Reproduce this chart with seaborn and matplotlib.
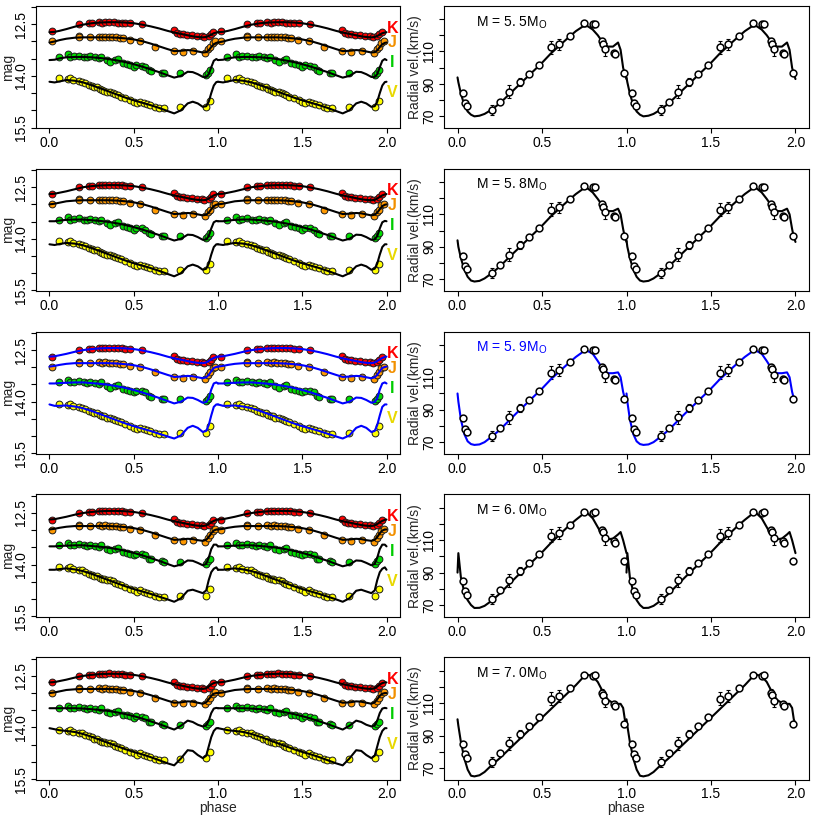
import numpy as np
import matplotlib
matplotlib.use("Agg")
import matplotlib.pyplot as plt
import seaborn as sns

# ---- observed light curves (one cycle; plotted at phase and phase+1) ----
K_PHASE = [0.016, 0.173, 0.233, 0.250, 0.292, 0.312, 0.331, 0.355, 0.381, 0.404, 0.430, 0.450,
           0.479, 0.548, 0.736, 0.756, 0.772, 0.792, 0.815, 0.845, 0.875, 0.904, 0.918, 0.944,
           0.958, 0.973]
K_MAG = [12.69, 12.50, 12.47, 12.46, 12.44, 12.45, 12.44, 12.43, 12.44, 12.45, 12.45, 12.47,
         12.47, 12.50, 12.68, 12.76, 12.79, 12.79, 12.81, 12.81, 12.84, 12.84, 12.88, 12.84,
         12.79, 12.71]

J_PHASE = [0.016, 0.173, 0.175, 0.239, 0.292, 0.312, 0.331, 0.351, 0.371, 0.396, 0.416, 0.436,
           0.475, 0.538, 0.627, 0.736, 0.791, 0.854, 0.923, 0.943, 0.953, 0.968, 0.985]
J_MAG = [12.99, 12.84, 12.88, 12.88, 12.86, 12.88, 12.86, 12.88, 12.88, 12.88, 12.91, 12.91,
         12.96, 13.00, 13.15, 13.28, 13.30, 13.28, 13.33, 13.23, 13.15, 13.03, 12.98]

I_PHASE = [0.055, 0.108, 0.124, 0.144, 0.173, 0.203, 0.223, 0.242, 0.272, 0.292, 0.306, 0.341,
           0.361, 0.390, 0.404, 0.436, 0.459, 0.479, 0.499, 0.515, 0.548, 0.568, 0.588, 0.602,
           0.667, 0.677, 0.775, 0.929, 0.943, 0.953]
I_MAG = [13.44, 13.37, 13.44, 13.42, 13.41, 13.44, 13.46, 13.42, 13.46, 13.49, 13.44, 13.54,
         13.59, 13.54, 13.52, 13.63, 13.65, 13.68, 13.73, 13.68, 13.70, 13.73, 13.83, 13.85,
         13.91, 13.93, 13.93, 13.97, 13.91, 13.83]

V_PHASE = [0.055, 0.108, 0.124, 0.140, 0.173, 0.193, 0.213, 0.233, 0.252, 0.266, 0.282, 0.298,
           0.312, 0.326, 0.341, 0.361, 0.377, 0.390, 0.404, 0.424, 0.450, 0.479, 0.499, 0.519,
           0.538, 0.558, 0.578, 0.598, 0.627, 0.647, 0.677, 0.775, 0.929, 0.953]
V_MAG = [14.07, 14.10, 14.07, 14.12, 14.15, 14.17, 14.22, 14.26, 14.29, 14.33, 14.33, 14.39,
         14.41, 14.43, 14.46, 14.46, 14.49, 14.53, 14.56, 14.60, 14.65, 14.70, 14.75, 14.80,
         14.75, 14.80, 14.82, 14.85, 14.91, 14.94, 14.94, 14.91, 14.90, 14.72]

# ---- observed radial velocities ----
RV_PHASE = [0.030, 0.045, 0.055, 0.203, 0.252, 0.305, 0.370, 0.424, 0.483, 0.554, 0.601, 0.664,
            0.747, 0.800, 0.814, 0.857, 0.863, 0.873, 0.928, 0.932, 0.987]
RV = [84.6, 78.4, 76.2, 73.7, 79.0, 85.2, 91.1, 95.9, 101.6, 112.7, 114.4, 119.5,
      127.5, 126.7, 127.1, 116.4, 114.8, 111.3, 109.2, 108.2, 96.9]
RV_ERR = [1.5, 1.5, 1.5, 3.0, 1.0, 4.0, 2.5, 1.0, 1.0, 4.0, 3.5, 1.5,
          1.0, 1.0, 1.0, 2.0, 1.0, 4.0, 1.5, 1.5, 1.5]

# ---- pulsation models, one per mass ----
MASSES = ["5. 5", "5. 8", "5. 9", "6. 0", "7. 0"]
MODEL_COLORS = ["black", "black", "blue", "black", "black"]

LC_GRID = [0.0, 0.03, 0.06, 0.10, 0.15, 0.20, 0.25, 0.30, 0.35, 0.40, 0.45, 0.50, 0.55, 0.60,
           0.65, 0.70, 0.74, 0.78, 0.82, 0.85, 0.88, 0.91, 0.93, 0.945, 0.96, 0.975, 0.99, 1.0]

K_MODEL = {
    "5. 5": [12.73, 12.72, 12.69, 12.64, 12.57, 12.51, 12.47, 12.45, 12.44, 12.44, 12.45, 12.47, 12.51, 12.56,
             12.62, 12.69, 12.74, 12.78, 12.82, 12.85, 12.87, 12.88, 12.87, 12.84, 12.80, 12.76, 12.74, 12.73],
    "5. 8": [12.70, 12.69, 12.66, 12.62, 12.56, 12.50, 12.47, 12.45, 12.44, 12.44, 12.45, 12.47, 12.51, 12.56,
             12.62, 12.69, 12.74, 12.78, 12.82, 12.85, 12.87, 12.88, 12.87, 12.83, 12.78, 12.74, 12.71, 12.70],
    "5. 9": [12.69, 12.68, 12.65, 12.61, 12.55, 12.50, 12.47, 12.45, 12.44, 12.44, 12.45, 12.47, 12.51, 12.56,
             12.62, 12.69, 12.74, 12.78, 12.82, 12.85, 12.87, 12.88, 12.86, 12.82, 12.77, 12.73, 12.70, 12.69],
    "6. 0": [12.69, 12.68, 12.65, 12.61, 12.55, 12.50, 12.47, 12.45, 12.44, 12.44, 12.45, 12.47, 12.51, 12.56,
             12.62, 12.69, 12.74, 12.78, 12.82, 12.85, 12.87, 12.88, 12.86, 12.82, 12.77, 12.73, 12.70, 12.69],
    "7. 0": [12.69, 12.68, 12.65, 12.61, 12.55, 12.50, 12.47, 12.45, 12.44, 12.44, 12.45, 12.47, 12.51, 12.56,
             12.62, 12.69, 12.74, 12.78, 12.82, 12.85, 12.87, 12.88, 12.86, 12.81, 12.75, 12.71, 12.69, 12.69],
}
J_MODEL = {
    "5. 5": [13.03, 13.00, 12.96, 12.92, 12.89, 12.88, 12.88, 12.88, 12.88, 12.89, 12.91, 12.94, 12.99, 13.06,
             13.14, 13.22, 13.28, 13.27, 13.25, 13.26, 13.29, 13.32, 13.31, 13.26, 13.16, 13.08, 13.04, 13.03],
    "5. 8": [13.00, 12.98, 12.95, 12.91, 12.89, 12.88, 12.88, 12.88, 12.88, 12.89, 12.91, 12.94, 12.99, 13.06,
             13.14, 13.22, 13.28, 13.27, 13.25, 13.26, 13.29, 13.32, 13.30, 13.24, 13.14, 13.05, 13.01, 13.00],
    "5. 9": [12.98, 12.96, 12.93, 12.90, 12.88, 12.88, 12.88, 12.88, 12.88, 12.89, 12.91, 12.94, 12.99, 13.06,
             13.14, 13.22, 13.28, 13.27, 13.25, 13.26, 13.29, 13.32, 13.29, 13.22, 13.11, 13.02, 12.99, 12.98],
    "6. 0": [12.98, 12.96, 12.93, 12.90, 12.88, 12.88, 12.88, 12.88, 12.88, 12.89, 12.91, 12.94, 12.99, 13.06,
             13.14, 13.22, 13.28, 13.27, 13.25, 13.26, 13.29, 13.31, 13.28, 13.20, 13.09, 13.01, 12.98, 12.98],
    "7. 0": [13.00, 12.98, 12.95, 12.91, 12.89, 12.88, 12.88, 12.88, 12.88, 12.89, 12.91, 12.94, 12.99, 13.06,
             13.14, 13.22, 13.28, 13.27, 13.24, 13.25, 13.28, 13.31, 13.27, 13.18, 13.08, 13.02, 13.00, 13.00],
}
I_MODEL = {
    "5. 5": [13.54, 13.53, 13.49, 13.46, 13.45, 13.45, 13.46, 13.48, 13.51, 13.55, 13.60, 13.66, 13.73, 13.81,
             13.89, 13.98, 14.05, 14.00, 13.88, 13.89, 13.95, 14.03, 14.03, 13.95, 13.75, 13.56, 13.51, 13.54],
    "5. 8": [13.49, 13.49, 13.47, 13.45, 13.44, 13.44, 13.46, 13.48, 13.51, 13.55, 13.60, 13.66, 13.73, 13.81,
             13.89, 13.98, 14.05, 14.00, 13.88, 13.89, 13.95, 14.03, 14.02, 13.92, 13.70, 13.52, 13.48, 13.49],
    "5. 9": [13.47, 13.47, 13.46, 13.45, 13.44, 13.44, 13.46, 13.48, 13.51, 13.55, 13.60, 13.66, 13.73, 13.81,
             13.89, 13.98, 14.05, 14.00, 13.88, 13.89, 13.95, 14.03, 14.01, 13.90, 13.65, 13.47, 13.44, 13.47],
    "6. 0": [13.47, 13.47, 13.46, 13.45, 13.44, 13.44, 13.46, 13.48, 13.51, 13.55, 13.60, 13.66, 13.73, 13.81,
             13.89, 13.98, 14.05, 14.00, 13.88, 13.89, 13.95, 14.02, 13.98, 13.80, 13.55, 13.42, 13.42, 13.47],
    "7. 0": [13.44, 13.44, 13.44, 13.44, 13.44, 13.45, 13.47, 13.49, 13.52, 13.56, 13.61, 13.67, 13.74, 13.82,
             13.90, 13.99, 14.06, 13.95, 13.80, 13.84, 13.92, 13.97, 13.94, 13.80, 13.58, 13.45, 13.43, 13.44],
}
V_MODEL = {
    "5. 5": [14.17, 14.19, 14.16, 14.12, 14.14, 14.19, 14.27, 14.36, 14.45, 14.54, 14.63, 14.71, 14.78, 14.85,
             14.93, 15.02, 15.09, 15.00, 14.80, 14.75, 14.80, 14.90, 14.88, 14.75, 14.50, 14.28, 14.18, 14.17],
    "5. 8": [14.16, 14.18, 14.15, 14.12, 14.14, 14.19, 14.27, 14.36, 14.45, 14.54, 14.63, 14.71, 14.78, 14.85,
             14.93, 15.02, 15.09, 15.00, 14.80, 14.75, 14.80, 14.90, 14.87, 14.72, 14.46, 14.24, 14.16, 14.16],
    "5. 9": [14.08, 14.12, 14.12, 14.11, 14.14, 14.19, 14.27, 14.36, 14.45, 14.54, 14.63, 14.71, 14.78, 14.85,
             14.93, 15.01, 15.07, 14.98, 14.76, 14.70, 14.76, 14.88, 14.85, 14.68, 14.40, 14.15, 14.08, 14.08],
    "6. 0": [14.15, 14.15, 14.13, 14.11, 14.14, 14.19, 14.27, 14.36, 14.45, 14.54, 14.63, 14.71, 14.78, 14.85,
             14.93, 15.01, 15.08, 14.98, 14.76, 14.73, 14.78, 14.83, 14.75, 14.45, 14.22, 14.12, 14.08, 14.15],
    "7. 0": [14.02, 14.05, 14.08, 14.10, 14.13, 14.19, 14.27, 14.36, 14.45, 14.54, 14.63, 14.71, 14.78, 14.86,
             14.95, 15.04, 15.10, 14.90, 14.66, 14.68, 14.80, 14.89, 14.82, 14.55, 14.28, 14.10, 14.02, 14.02],
}

RV_GRID = [0.0, 0.005, 0.02, 0.04, 0.06, 0.08, 0.10, 0.13, 0.16, 0.20, 0.25, 0.30, 0.35, 0.40, 0.45, 0.50,
           0.55, 0.60, 0.65, 0.70, 0.74, 0.77, 0.80, 0.83, 0.86, 0.89, 0.92, 0.95, 0.965, 0.98, 0.99, 1.0]
RV_MODEL = {
    "5. 5": [94, 91, 84, 77, 73, 71, 70, 70.4, 71.5, 74, 78, 83, 88, 93, 98, 103,
             108.5, 113.3, 118, 122.5, 125.3, 125.6, 123.5, 120, 115.5, 113, 113, 115.5, 111, 100, 96, 93],
    "5. 8": [94, 90, 83, 76, 71.5, 69.2, 68.6, 69, 70.5, 73.5, 77.8, 83, 88, 93, 98, 103,
             108.5, 113.3, 118, 122.5, 125.5, 126, 123.5, 119.5, 115, 112, 112, 113.5, 110, 101, 96, 93],
    "5. 9": [100, 95, 84, 75, 70.5, 68.8, 68.3, 68.6, 70, 73.2, 77.5, 82.8, 88, 93, 98, 103,
             108.5, 113.3, 118, 122.5, 125.5, 126.2, 124.5, 120, 115, 112.5, 112.5, 113, 110, 101, 97, 96],
    "6. 0": [90, 102, 87, 78, 73, 70, 68.2, 68.3, 69.5, 72.5, 77, 82.3, 87.5, 92.5, 97.5, 102.5,
             108, 113, 118, 122.5, 125.8, 126.5, 123.5, 118, 112.5, 110.5, 111, 113.5, 115, 110, 106, 102],
    "7. 0": [100, 96, 86, 76, 69, 65.2, 64.8, 65.5, 67.5, 71.5, 76, 81, 86, 91, 96, 101,
             106, 111, 116, 121, 125.5, 127.5, 126.5, 123, 117, 112, 110, 109.5, 109.5, 107, 100, 97],
}

BANDS = ["K", "J", "I", "V"]
BAND_COLORS = {"K": "#FF0000", "J": "#FF9900", "I": "#00DD00", "V": "#FFFF00"}
BAND_TEXT_COLORS = {"K": "#FF0000", "J": "#F29000", "I": "#00CC00", "V": "#E8D800"}
BAND_LABEL_MAG = {"K": 12.61, "J": 13.04, "I": 13.62, "V": 14.49}
OBS = {"K": (K_PHASE, K_MAG), "J": (J_PHASE, J_MAG), "I": (I_PHASE, I_MAG), "V": (V_PHASE, V_MAG)}
MODELS = {"K": K_MODEL, "J": J_MODEL, "I": I_MODEL, "V": V_MODEL}

sns.set_style("white")
plt.rcParams["font.family"] = ["Liberation Sans", "DejaVu Sans"]
plt.rcParams["mathtext.fontset"] = "custom"
plt.rcParams["mathtext.rm"] = "Liberation Sans"


def two_cycles(phase, values):
    p = np.asarray(phase, dtype=float)
    v = np.asarray(values, dtype=float)
    return np.concatenate([p, p + 1]), np.concatenate([v, v])


def style_axes(ax):
    for sp in ax.spines.values():
        sp.set_visible(True)
        sp.set_color("black")
        sp.set_linewidth(0.8)
    ax.tick_params(direction="out", length=3.5, width=0.8, labelsize=10, pad=2,
                   left=True, bottom=True, colors="black")
    ax.set_xlim(-0.08, 2.08)
    ax.set_xticks([0.0, 0.5, 1.0, 1.5, 2.0])
    ax.set_xticklabels(["0.0", "0.5", "1.0", "1.5", "2.0"])
    ax.grid(False)


fig = plt.figure(figsize=(8.17, 8.17), dpi=100)
W = 817.0
row_h = 122.5
row_step = 162.9

for i, mass in enumerate(MASSES):
    top = 5.7 + i * row_step
    bottom = 1 - (top + row_h) / W
    lc_ax = fig.add_axes([36 / W, bottom, 364 / W, row_h / W])
    rv_ax = fig.add_axes([444 / W, bottom, 365 / W, row_h / W])
    mcol = MODEL_COLORS[i]

    # light curves
    for band in BANDS:
        ph, mg = two_cycles(*OBS[band])
        sns.scatterplot(x=ph, y=mg, ax=lc_ax, color=BAND_COLORS[band], edgecolor="#1a1a1a",
                        linewidth=0.7, s=24, zorder=2, legend=False)
    for band in BANDS:
        for shift in (0, 1):
            sns.lineplot(x=np.asarray(LC_GRID) + shift, y=MODELS[band][mass], ax=lc_ax,
                         sort=False, estimator=None, color=mcol, linewidth=1.5, zorder=3)
        lc_ax.text(2.036, BAND_LABEL_MAG[band], band, color=BAND_TEXT_COLORS[band],
                   fontsize=11.5, fontweight="bold", ha="center", va="center", zorder=4)
    style_axes(lc_ax)
    lc_ax.set_ylim(15.52, 11.96)
    lc_ax.set_yticks([12.0, 12.5, 13.0, 13.5, 14.0, 14.5, 15.0, 15.5])
    lc_ax.set_yticklabels(["", "12.5", "", "", "14.0", "", "", "15.5"], rotation=90, va="center")
    lc_ax.set_ylabel("mag", fontsize=10)
    lc_ax.yaxis.set_label_coords(-0.058, 0.5)

    # radial velocity
    rph, rv = two_cycles(RV_PHASE, RV)
    _, rerr = two_cycles(RV_PHASE, RV_ERR)
    rv_ax.errorbar(rph, rv, yerr=rerr, fmt="none", ecolor="black", elinewidth=0.8,
                   capsize=1.5, capthick=0.8, zorder=2)
    for shift in (0, 1):
        sns.lineplot(x=np.asarray(RV_GRID) + shift, y=RV_MODEL[mass], ax=rv_ax, sort=False,
                     estimator=None, color=mcol, linewidth=1.5, zorder=3)
    sns.scatterplot(x=rph, y=rv, ax=rv_ax, facecolor="white", edgecolor="black",
                    linewidth=1.1, s=24, zorder=4, legend=False)
    style_axes(rv_ax)
    rv_ax.set_ylim(62.7, 138.2)
    rv_ax.set_yticks([70, 80, 90, 100, 110, 120, 130])
    rv_ax.set_yticklabels(["70", "", "90", "", "110", "", ""], rotation=90, va="center")
    rv_ax.set_ylabel("Radial vel.(km/s)", fontsize=10)
    rv_ax.yaxis.set_label_coords(-0.060, 0.5)
    rv_ax.text(0.088, 0.864, "M = " + mass + r"M$_\mathregular{O}$", transform=rv_ax.transAxes,
               color="blue" if mcol == "blue" else "black", fontsize=10, ha="left", va="center")

    if i == len(MASSES) - 1:
        lc_ax.set_xlabel("phase", fontsize=10, labelpad=0)
        rv_ax.set_xlabel("phase", fontsize=10, labelpad=0)
    else:
        lc_ax.set_xlabel("")
        rv_ax.set_xlabel("")

fig.savefig("out.png", dpi=100, facecolor="white")
